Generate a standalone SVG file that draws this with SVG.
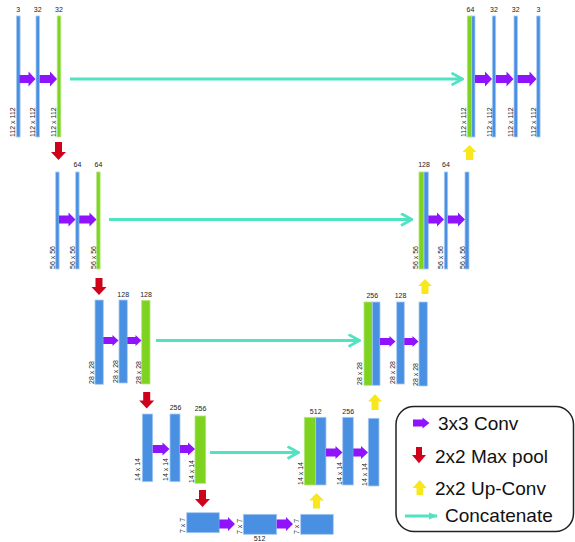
<svg xmlns="http://www.w3.org/2000/svg" width="575" height="542" viewBox="0 0 575 542">
<defs>
<marker id="chev" viewBox="0 0 13 14" refX="12" refY="7" markerWidth="13" markerHeight="14" markerUnits="userSpaceOnUse" orient="auto">
<path d="M1,1 L12,7 L1,13" fill="none" stroke="#50e3c2" stroke-width="2.8"/>
</marker>
<marker id="tri" viewBox="0 0 10 10" refX="9" refY="5" markerWidth="9" markerHeight="9" markerUnits="userSpaceOnUse" orient="auto">
<path d="M0,1 L10,5 L0,9 Z" fill="#50e3c2"/>
</marker>
</defs>
<style>
.b{fill:#4a90e2;stroke:#a9cbf2;stroke-width:0.8}
.g{fill:#7ed321;stroke:#b4e67f;stroke-width:0.8}
.p{fill:#9013fe}
.r{fill:#d0021b}
.y{fill:#f8e71c}
.c{stroke:#50e3c2;stroke-width:2.8;fill:none}
.t{font-family:"Liberation Sans",Arial,sans-serif;font-size:7px;fill:#222}
.tm{text-anchor:middle}
.lg{font-family:"Liberation Sans",Arial,sans-serif;font-size:19px;fill:#111}
</style>
<rect width="575" height="542" fill="#fff"/>

<!-- Level 1 left -->
<g id="l1a"><rect class="b" x="16.5" y="16" width="3.6" height="121"/><text class="t tm" x="18.3" y="12">3</text><text class="t" transform="translate(15,137) rotate(-90)">112 x 112</text></g>
<g id="l1b"><rect class="b" x="36" y="16" width="3.4" height="121"/><text class="t tm" x="37.7" y="12">32</text><text class="t" transform="translate(35,137) rotate(-90)">112 x 112</text></g>
<g id="l1c"><rect class="g" x="57.2" y="16" width="3.6" height="121"/><text class="t tm" x="59" y="12">32</text><text class="t" transform="translate(56,137) rotate(-90)">112 x 112</text></g>

<!-- Level 1 right -->
<g id="r1a"><rect class="g" x="467.3" y="16" width="4.4" height="121"/><rect class="b" x="471.7" y="16" width="3.3" height="121"/><text class="t tm" x="470.5" y="12">64</text><text class="t" transform="translate(466,137) rotate(-90)">112 x 112</text></g>
<g id="r1b"><rect class="b" x="492.3" y="16" width="3.4" height="121"/><text class="t tm" x="494" y="12">32</text><text class="t" transform="translate(491.5,137) rotate(-90)">112 x 112</text></g>
<g id="r1c"><rect class="b" x="514" y="16" width="3.4" height="121"/><text class="t tm" x="515.7" y="12">32</text><text class="t" transform="translate(513,137) rotate(-90)">112 x 112</text></g>
<g id="r1d"><rect class="b" x="536.7" y="16" width="3.4" height="121"/><text class="t tm" x="538.4" y="12">3</text><text class="t" transform="translate(535.5,137) rotate(-90)">112 x 112</text></g>

<!-- Level 2 left -->
<g id="l2a"><rect class="b" x="55.7" y="172" width="3.4" height="97"/><text class="t" transform="translate(54.8,269) rotate(-90)">56 x 56</text></g>
<g id="l2b"><rect class="b" x="75.7" y="172" width="3.4" height="97"/><text class="t tm" x="77.4" y="167">64</text><text class="t" transform="translate(74.8,269) rotate(-90)">56 x 56</text></g>
<g id="l2c"><rect class="g" x="96.7" y="172" width="3.4" height="97"/><text class="t tm" x="98.4" y="167">64</text><text class="t" transform="translate(95.8,269) rotate(-90)">56 x 56</text></g>

<!-- Level 2 right -->
<g id="r2a"><rect class="g" x="419" y="172" width="5" height="97"/><rect class="b" x="424" y="172" width="4.3" height="97"/><text class="t tm" x="424" y="167">128</text><text class="t" transform="translate(418,269) rotate(-90)">56 x 56</text></g>
<g id="r2b"><rect class="b" x="444.3" y="172" width="3.4" height="97"/><text class="t tm" x="446" y="167">64</text><text class="t" transform="translate(443.3,269) rotate(-90)">56 x 56</text></g>
<g id="r2c"><rect class="b" x="465" y="172" width="4" height="97"/><text class="t" transform="translate(464.5,269) rotate(-90)">56 x 56</text></g>

<!-- Level 3 left -->
<g id="l3a"><rect class="b" x="95" y="300" width="8.3" height="84.3"/><text class="t" transform="translate(93.5,384) rotate(-90)">28 x 28</text></g>
<g id="l3b"><rect class="b" x="119" y="300" width="8.3" height="83"/><text class="t tm" x="123.2" y="297">128</text><text class="t" transform="translate(118,383) rotate(-90)">28 x 28</text></g>
<g id="l3c"><rect class="g" x="141.7" y="300.5" width="8.3" height="83.5"/><text class="t tm" x="146" y="297">128</text><text class="t" transform="translate(141.2,384) rotate(-90)">28 x 28</text></g>

<!-- Level 3 right -->
<g id="r3a"><rect class="g" x="364" y="302" width="8.3" height="83.3"/><rect class="b" x="372.3" y="302" width="7.7" height="83.3"/><text class="t tm" x="372.3" y="297.5">256</text><text class="t" transform="translate(362,385) rotate(-90)">28 x 28</text></g>
<g id="r3b"><rect class="b" x="396.7" y="302" width="7.6" height="82"/><text class="t tm" x="400.5" y="297.5">128</text><text class="t" transform="translate(395,384) rotate(-90)">28 x 28</text></g>
<g id="r3c"><rect class="b" x="419" y="302" width="8.3" height="84"/><text class="t" transform="translate(418.3,386) rotate(-90)">28 x 28</text></g>

<!-- Level 4 left -->
<g id="l4a"><rect class="b" x="142.3" y="414" width="10.4" height="67.7"/><text class="t" transform="translate(139.5,481) rotate(-90)">14 x 14</text></g>
<g id="l4b"><rect class="b" x="170" y="414" width="10" height="67.7"/><text class="t tm" x="175.5" y="410">256</text><text class="t" transform="translate(167.5,481) rotate(-90)">14 x 14</text></g>
<g id="l4c"><rect class="g" x="195" y="416" width="10.7" height="67.3"/><text class="t tm" x="200.5" y="410.5">256</text><text class="t" transform="translate(194,483) rotate(-90)">14 x 14</text></g>

<!-- Level 4 right -->
<g id="r4a"><rect class="g" x="304.3" y="417.3" width="11.4" height="67.7"/><rect class="b" x="315.7" y="417.3" width="10.3" height="67.7"/><text class="t tm" x="315.7" y="413.5">512</text><text class="t" transform="translate(302.8,485) rotate(-90)">14 x 14</text></g>
<g id="r4b"><rect class="b" x="342.7" y="417.3" width="10.6" height="67.7"/><text class="t tm" x="348.2" y="413.5">256</text><text class="t" transform="translate(341.7,485) rotate(-90)">14 x 14</text></g>
<g id="r4c"><rect class="b" x="368.3" y="418.3" width="10.7" height="67.7"/><text class="t" transform="translate(367.3,486) rotate(-90)">14 x 14</text></g>

<!-- Bottom -->
<g id="m1"><rect class="b" x="186.7" y="512.7" width="32.6" height="20"/><text class="t" transform="translate(185,533) rotate(-90)">7 x 7</text></g>
<g id="m2"><rect class="b" x="243.3" y="514.3" width="33.4" height="20"/><text class="t" transform="translate(241.8,534) rotate(-90)">7 x 7</text><text class="t tm" x="259.5" y="541">512</text></g>
<g id="m3"><rect class="b" x="300.7" y="514.3" width="32.6" height="20"/><text class="t" transform="translate(299.3,534) rotate(-90)">7 x 7</text></g>

<!-- Connectors -->
<g id="connectors">
<!-- 3x3 conv arrows -->
<polygon class="p" points="19.5,75 28.5,75 28.5,71.5 35.5,79 28.5,86.5 28.5,83 19.5,83"/>
<polygon class="p" points="39.6,75 50,75 50,71.5 57,79 50,86.5 50,83 39.6,83"/>
<polygon class="p" points="475,75 485,75 485,71.5 492,79 485,86.5 485,83 475,83"/>
<polygon class="p" points="495.8,75 506.5,75 506.5,71.5 513.5,79 506.5,86.5 506.5,83 495.8,83"/>
<polygon class="p" points="517.5,75 529.5,75 529.5,71.5 536.5,79 529.5,86.5 529.5,83 517.5,83"/>

<polygon class="p" points="59,215.5 68.5,215.5 68.5,212.5 75.5,219.5 68.5,226.5 68.5,223.5 59,223.5"/>
<polygon class="p" points="79.2,215.5 89.5,215.5 89.5,212.5 96.5,219.5 89.5,226.5 89.5,223.5 79.2,223.5"/>
<polygon class="p" points="428.3,215.5 437,215.5 437,212.5 444,219.5 437,226.5 437,223.5 428.3,223.5"/>
<polygon class="p" points="447.8,215.5 458,215.5 458,212.5 465,219.5 458,226.5 458,223.5 447.8,223.5"/>

<polygon class="p" points="103.3,337 112.5,337 112.5,335 118.5,340.5 112.5,346 112.5,344 103.3,344"/>
<polygon class="p" points="127.3,337 135.5,337 135.5,335 141.5,340.5 135.5,346 135.5,344 127.3,344"/>
<polygon class="p" points="380,338 389.5,338 389.5,336 395.5,341.5 389.5,347 389.5,345 380,345"/>
<polygon class="p" points="404.3,338 412.5,338 412.5,336 418.5,341.5 412.5,347 412.5,345 404.3,345"/>

<polygon class="p" points="152.7,445 162.5,445 162.5,442.5 169.5,449 162.5,455.5 162.5,453 152.7,453"/>
<polygon class="p" points="180,445 188,445 188,442.5 195,449 188,455.5 188,453 180,453"/>
<polygon class="p" points="326,448.5 335.5,448.5 335.5,446 342.5,452.5 335.5,459 335.5,456.5 326,456.5"/>
<polygon class="p" points="353.3,448.5 361,448.5 361,446 368,452.5 361,459 361,456.5 353.3,456.5"/>

<polygon class="p" points="219.3,519.5 228,519.5 228,517 235,524 228,531 228,528.5 219.3,528.5"/>
<polygon class="p" points="276.7,519.5 286,519.5 286,517 293,524 286,531 286,528.5 276.7,528.5"/>

<!-- max pool -->
<polygon class="r" points="55,142 62,142 62,152 66,152 58.5,160 51,152 55,152"/>
<polygon class="r" points="95.5,278 102.5,278 102.5,287 106.5,287 99,295 91.5,287 95.5,287"/>
<polygon class="r" points="143.2,392 150.2,392 150.2,400.5 154.2,400.5 146.7,408.5 139.2,400.5 143.2,400.5"/>
<polygon class="r" points="199,490 206,490 206,499 210,499 202.5,507 195,499 199,499"/>

<!-- up-conv -->
<polygon class="y" points="469.5,145 476.5,152 473,152 473,160 466,160 466,152 462.5,152"/>
<polygon class="y" points="425,279 432,286 428.5,286 428.5,294 421.5,294 421.5,286 418,286"/>
<polygon class="y" points="375,394 382,401.5 378.5,401.5 378.5,410 371.5,410 371.5,401.5 368,401.5"/>
<polygon class="y" points="316.5,493 324,500.5 320,500.5 320,508.5 313,508.5 313,500.5 309,500.5"/>

<!-- concatenate -->
<line class="c" x1="70" y1="79" x2="462.5" y2="79" marker-end="url(#chev)"/>
<line class="c" x1="109" y1="219.5" x2="412" y2="219.5" marker-end="url(#chev)"/>
<line class="c" x1="156" y1="340.5" x2="359.5" y2="340.5" marker-end="url(#chev)"/>
<line class="c" x1="210" y1="452.5" x2="298.5" y2="452.5" marker-end="url(#chev)"/>
</g>

<!-- Legend -->
<g id="legend">
<rect x="396" y="406.5" width="177.5" height="125" rx="18" ry="18" fill="#fff" stroke="#222" stroke-width="1.5"/>
<polygon class="p" points="413,419.5 422.5,419.5 422.5,417.5 429.5,423 422.5,428.5 422.5,426.5 413,426.5"/>
<text class="lg" x="438" y="430">3x3 Conv</text>
<polygon class="r" points="416,447 422,447 422,455 426,455 419,463.3 412,455 416,455"/>
<text class="lg" x="435" y="463">2x2 Max pool</text>
<polygon class="y" points="419.7,480 426.7,488 423,488 423,495 416.5,495 416.5,488 412.7,488"/>
<text class="lg" x="435" y="495">2x2 Up-Conv</text>
<line x1="405" y1="516" x2="437" y2="516" stroke="#50e3c2" stroke-width="3" marker-end="url(#tri)"/>
<text class="lg" x="445" y="522">Concatenate</text>
</g>
</svg>
